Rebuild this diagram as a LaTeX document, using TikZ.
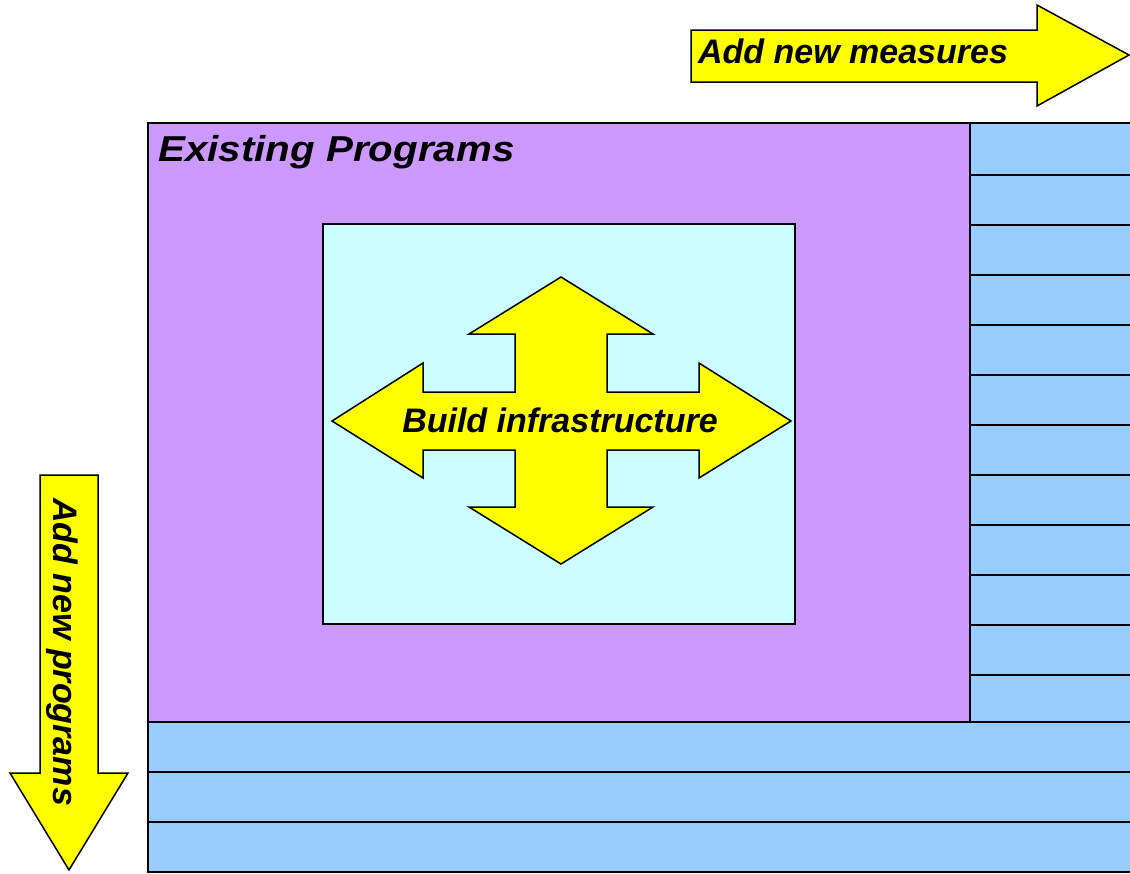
\documentclass[tikz,border=0pt]{standalone}
\usepackage{fontspec}
\setmainfont{Liberation Sans}
\newfontfamily\widesans[FakeStretch=1.12]{Liberation Sans}
\usetikzlibrary{positioning}

\definecolor{progpurple}{HTML}{CC99FF}
\definecolor{rowblue}{HTML}{99CCFF}
\definecolor{infracyan}{HTML}{CCFFFF}
\definecolor{arrowyellow}{HTML}{FFFF00}

\begin{document}
\begin{tikzpicture}[
    x=1pt, y=-1pt,
    panel/.style={draw=black, line width=2.5pt},
    rowbox/.style={panel, fill=rowblue},
    bigarrow/.style={fill=arrowyellow, draw=black, line width=1.5pt, line join=miter},
    boldlabel/.style={font=\fontsize{34}{40}\selectfont\bfseries\itshape, inner sep=0pt}
]
    \clip (0,0) rectangle (1130,873);

    % programs and measures
    \filldraw[panel, fill=progpurple] (148,123) rectangle (970,722);
    \foreach \ya/\yb in {123/175,175/225,225/275,275/325,325/375,375/425,
                         425/475,475/525,525/575,575/625,625/675,675/722}
        \filldraw[rowbox] (970,\ya) rectangle (1150,\yb);
    \foreach \ya/\yb in {722/772,772/822,822/872}
        \filldraw[rowbox] (148,\ya) rectangle (1150,\yb);
    \filldraw[panel, line width=2pt, fill=infracyan] (323,224) rectangle (795,624);

    % arrows
    \filldraw[bigarrow] (691,30) -- (1037,30) -- (1037,5) -- (1129,55)
        -- (1037,106) -- (1037,82) -- (691,82) -- cycle;
    \filldraw[bigarrow] (40,475) -- (98,475) -- (98,773) -- (128,773)
        -- (69,870) -- (10,773) -- (40,773) -- cycle;
    \filldraw[bigarrow] (561,277) -- (653,334) -- (607,334) -- (607,392)
        -- (699,392) -- (699,363) -- (791,421) -- (699,478) -- (699,450)
        -- (607,450) -- (607,507) -- (653,507) -- (561,564) -- (469,507)
        -- (515,507) -- (515,450) -- (423,450) -- (423,478) -- (332,421)
        -- (423,363) -- (423,392) -- (515,392) -- (515,334) -- (469,334) -- cycle;

    % labels
    \node[boldlabel, anchor=base] (measures) at (853,63) {Add new measures};
    \node[boldlabel, font=\widesans\fontsize{36}{42}\selectfont\bfseries\itshape,
          anchor=base west] (existing) at (158,161) {Existing Programs};
    \node[boldlabel, anchor=base] (infra) at (560,432) {Build infrastructure};
    \node[boldlabel, anchor=base, rotate=-90] (programs) at (53,652) {Add new programs};
\end{tikzpicture}
\end{document}
